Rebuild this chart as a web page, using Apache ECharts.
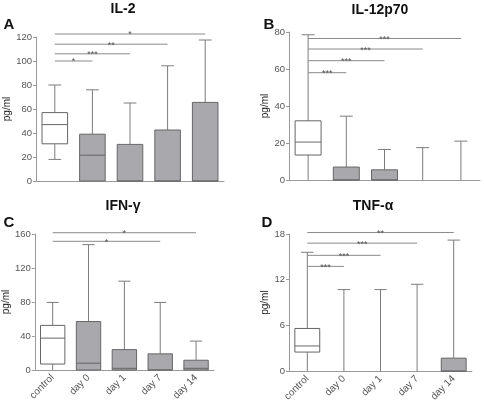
<!DOCTYPE html>
<html><head><meta charset="utf-8">
<script src="https://cdn.jsdelivr.net/npm/echarts@6/dist/echarts.min.js"></script>
<style>html,body{margin:0;padding:0;background:#fff}#c{width:484px;height:404px}</style>
</head><body><div id="c"></div>
<script>
// categories
const categories = ['control', 'day 0', 'day 1', 'day 7', 'day 14'];
// box values: [min, Q1, median, Q3, max]
const il2  = [[18, 31, 47, 57, 80], [0, 0, 21.5, 39, 76], [0, 0, 0, 30.5, 65], [0, 0, 0, 42.5, 96], [0, 0, 0, 65.5, 117.5]];
const il12 = [[0, 13.5, 20.5, 32, 78.5], [0, 0, 0, 7, 34.5], [0, 0, 0, 5.5, 16.5], [0, 0, 0, 0, 17.5], [0, 0, 0, 0, 21]];
const ifng = [[0, 7, 37.5, 52.5, 79.5], [0, 0, 8, 57, 147.5], [0, 0, 2, 24, 104.5], [0, 0, 0, 19, 79.5], [0, 0, 2, 11.5, 34]];
const tnfa = [[0, 2.5, 3.3, 5.6, 15.6], [0, 0, 0, 0, 10.7], [0, 0, 0, 0, 10.7], [0, 0, 0, 0, 11.4], [0, 0, 0, 1.7, 17.2]];
// significance brackets: compared category, bracket level (in axis units), stars
const sigTargetsA = [1, 2, 3, 4], sigLevelsA = [100, 106, 114, 122.5], sigStarsA = ['*', '***', '**', '*'];
const sigTargetsB = [1, 2, 3, 4], sigLevelsB = [58, 64.5, 70.8, 76.5], sigStarsB = ['***', '***', '***', '***'];
const sigTargetsC = [3, 4], sigLevelsC = [151.4, 161.5], sigStarsC = ['*', '*'];
const sigTargetsD = [1, 2, 3, 4], sigLevelsD = [13.75, 15.2, 16.8, 18.2], sigStarsD = ['***', '***', '***', '**'];
// axis settings
const yMaxes = [120, 80, 160, 18], yIntervals = [20, 20, 40, 6];
const titles = ['IL-2', 'IL-12p70', 'IFN-γ', 'TNF-α'];
const letters = ['A', 'B', 'C', 'D'];

const FONT = '"Liberation Sans", Arial, Helvetica, sans-serif';
const BOX_FILL = '#a9a9ad', BOX_LINE = '#666', WHISK = '#7c7c7c', AXIS = '#9a9a9a', LABEL = '#555';

const grids = [
  {left: 36, top: 37, width: 188, height: 144},
  {left: 289, top: 32, width: 191, height: 148},
  {left: 34, top: 234, width: 180, height: 136},
  {left: 289, top: 234, width: 183, height: 140}
];

function renderBox(params, api) {
  const i = api.value(0);
  const mn = api.value(1), q1 = api.value(2), md = api.value(3), q3 = api.value(4), mx = api.value(5);
  const band = api.size([1, 0])[0];
  const bw = band * 0.68, cw = bw * 0.5;
  const c = api.coord([i, 0])[0];
  const y = v => api.coord([i, v])[1];
  const lineStyle = {stroke: WHISK, lineWidth: 1, fill: null};
  const ch = [];
  if (mx > q3) {
    ch.push({type: 'line', shape: {x1: c, y1: y(q3), x2: c, y2: y(mx)}, style: lineStyle});
    ch.push({type: 'line', shape: {x1: c - cw / 2, y1: y(mx), x2: c + cw / 2, y2: y(mx)}, style: lineStyle});
  }
  if (mn < q1) {
    ch.push({type: 'line', shape: {x1: c, y1: y(q1), x2: c, y2: y(mn)}, style: lineStyle});
    if (mn > 0) ch.push({type: 'line', shape: {x1: c - cw / 2, y1: y(mn), x2: c + cw / 2, y2: y(mn)}, style: lineStyle});
  }
  if (q3 > q1) {
    ch.push({type: 'rect', shape: {x: c - bw / 2, y: y(q3), width: bw, height: y(q1) - y(q3)},
      style: {fill: params.dataIndex === 0 ? '#fff' : BOX_FILL, stroke: BOX_LINE, lineWidth: 1}});
    ch.push({type: 'line', shape: {x1: c - bw / 2, y1: y(md), x2: c + bw / 2, y2: y(md)},
      style: {stroke: BOX_LINE, lineWidth: 1}});
  }
  return {type: 'group', children: ch};
}

function renderSig(stars) {
  return function (params, api) {
    const a = api.coord([api.value(0), api.value(2)]);
    const b = api.coord([api.value(1), api.value(2)]);
    return {type: 'group', children: [
      {type: 'line', shape: {x1: a[0], y1: a[1], x2: b[0], y2: b[1]}, style: {stroke: '#8a8a8a', lineWidth: 1}},
      {type: 'text', x: (a[0] + b[0]) / 2, y: a[1] + 1,
        style: {text: stars[params.dataIndex], fill: LABEL, font: '9px ' + FONT, align: 'center', verticalAlign: 'middle', textAlign: 'center', textVerticalAlign: 'middle'}}
    ]};
  };
}

const boxSets = [il2, il12, ifng, tnfa];
const sigSets = [
  [sigTargetsA, sigLevelsA, sigStarsA],
  [sigTargetsB, sigLevelsB, sigStarsB],
  [sigTargetsC, sigLevelsC, sigStarsC],
  [sigTargetsD, sigLevelsD, sigStarsD]
];

const xAxis = [], yAxis = [], series = [];
for (let k = 0; k < 4; k++) {
  xAxis.push({
    type: 'category', gridIndex: k, data: categories,
    axisLine: {lineStyle: {color: AXIS}}, axisTick: {show: false},
    axisLabel: {show: k >= 2, rotate: 45, color: LABEL, fontSize: 10, fontFamily: FONT, margin: 6}
  });
  yAxis.push({
    type: 'value', gridIndex: k, min: 0, max: yMaxes[k], interval: yIntervals[k],
    name: 'pg/ml', nameLocation: 'middle', nameGap: k % 2 === 0 ? 21 : 18,
    nameTextStyle: {color: '#222', fontSize: 10, fontFamily: FONT},
    axisLine: {show: true, lineStyle: {color: AXIS}},
    axisTick: {show: true, length: 3, lineStyle: {color: AXIS}},
    splitLine: {show: false},
    axisLabel: {color: LABEL, fontSize: 9.5, fontFamily: FONT, margin: 4}
  });
  series.push({
    type: 'custom', xAxisIndex: k, yAxisIndex: k,
    renderItem: renderBox,
    encode: {x: 0, y: [1, 2, 3, 4, 5]},
    data: boxSets[k].map((v, i) => [i].concat(v)),
    clip: false, silent: true
  });
  const [tg, lv, st] = sigSets[k];
  series.push({
    type: 'custom', xAxisIndex: k, yAxisIndex: k,
    renderItem: renderSig(st),
    encode: {x: [0, 1], y: 2},
    data: tg.map((t, i) => [0, t, lv[i]]),
    clip: false, silent: true
  });
}

const titlePos = [[123, 9], [380, 10], [123, 206], [373, 206]];
const letterPos = [[9, 25], [269, 25], [9, 223], [267, 223]];
const graphic = [];
for (let k = 0; k < 4; k++) {
  graphic.push({type: 'text', x: titlePos[k][0], y: titlePos[k][1],
    style: {text: titles[k], font: 'bold 14px ' + FONT, fill: '#111', align: 'center', verticalAlign: 'middle', textAlign: 'center', textVerticalAlign: 'middle'}});
  graphic.push({type: 'text', x: letterPos[k][0], y: letterPos[k][1],
    style: {text: letters[k], font: 'bold 15px ' + FONT, fill: '#111', align: 'center', verticalAlign: 'middle', textAlign: 'center', textVerticalAlign: 'middle'}});
}

const chart = echarts.init(document.getElementById('c'), null, {renderer: 'canvas'});
chart.setOption({
  animation: false,
  backgroundColor: '#fff',
  grid: grids,
  xAxis: xAxis,
  yAxis: yAxis,
  series: series,
  graphic: graphic
});
</script>
</body></html>
